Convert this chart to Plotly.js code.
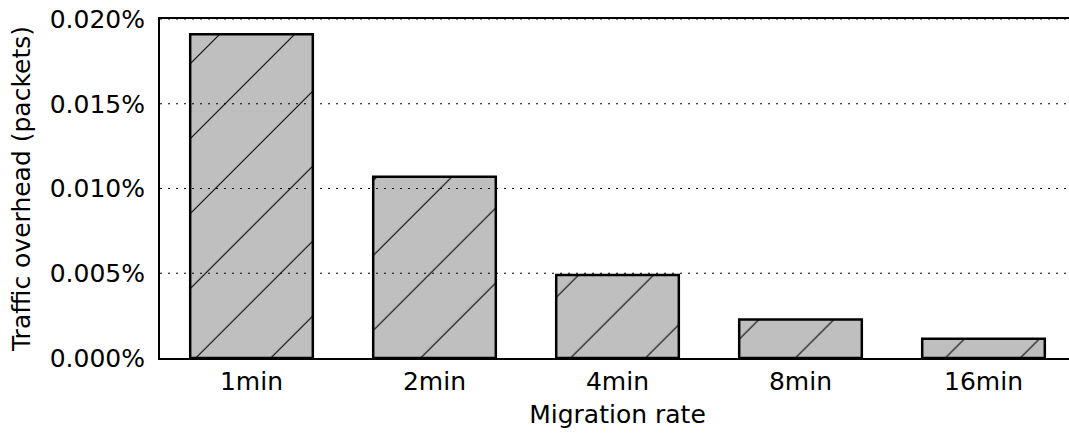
<!DOCTYPE html>
<html>
<head>
<meta charset="utf-8">
<script src="https://cdn.plot.ly/plotly-3.0.1.min.js"></script>
<style>
html, body { margin: 0; padding: 0; overflow: hidden; background: #fff; }
#chart { width: 1080px; height: 433px; }
</style>
</head>
<body>
<div id="chart"></div>
<script>
// Data (percent of packets)
var categories = ["1min", "2min", "4min", "8min", "16min"];
var overheadPct = [0.0191, 0.0107, 0.0049, 0.00227, 0.00113];
var yTickValues = [0, 0.005, 0.01, 0.015, 0.02];
var yTickLabels = ["0.000%", "0.005%", "0.010%", "0.015%", "0.020%"];

var FONT = "DejaVu Sans, sans-serif";

var trace = {
  type: "bar",
  x: categories,
  y: overheadPct,
  width: 0.67,
  marker: {
    color: "#bfbfbf",
    line: { color: "#000", width: 2.5 },
    pattern: { shape: "/", size: 53, solidity: 0.02, fgcolor: "#000", bgcolor: "#bfbfbf", fillmode: "replace" }
  },
  hoverinfo: "skip"
};

// dotted grid lines drawn above the bars (as in the reference)
var gridShapes = yTickValues.filter(function (v) { return v > 0; }).map(function (v) {
  return {
    type: "line", layer: "above",
    xref: "paper", x0: 0, x1: 1,
    yref: "y", y0: v, y1: v,
    line: { color: "#000", width: 1, dash: "2px,6px" }
  };
});

var layout = {
  width: 1080,
  height: 433,
  margin: { l: 160, r: 5, t: 19, b: 75 },
  paper_bgcolor: "#fff",
  plot_bgcolor: "#fff",
  showlegend: false,
  font: { family: FONT, size: 25, color: "#000" },
  shapes: gridShapes,
  xaxis: {
    type: "category",
    range: [-0.5, 4.5],
    showline: true, linecolor: "#000", linewidth: 2, mirror: true,
    showgrid: false, zeroline: false, layer: "above traces",
    ticks: "", ticklabelstandoff: 0,
    tickfont: { family: FONT, size: 25, color: "#000" },
    title: { text: "Migration rate", font: { family: FONT, size: 25, color: "#000" }, standoff: 10 }
  },
  yaxis: {
    range: [0, 0.02],
    tickvals: yTickValues,
    ticktext: yTickLabels,
    showline: true, linecolor: "#000", linewidth: 2, mirror: true,
    showgrid: false, zeroline: false, layer: "above traces",
    ticks: "", ticklabelstandoff: 8,
    tickfont: { family: FONT, size: 25, color: "#000" },
    title: { text: "Traffic overhead (packets)", font: { family: FONT, size: 25, color: "#000" }, standoff: 12 }
  }
};

Plotly.newPlot("chart", [trace], layout, { displayModeBar: false, staticPlot: true });
</script>
</body>
</html>
